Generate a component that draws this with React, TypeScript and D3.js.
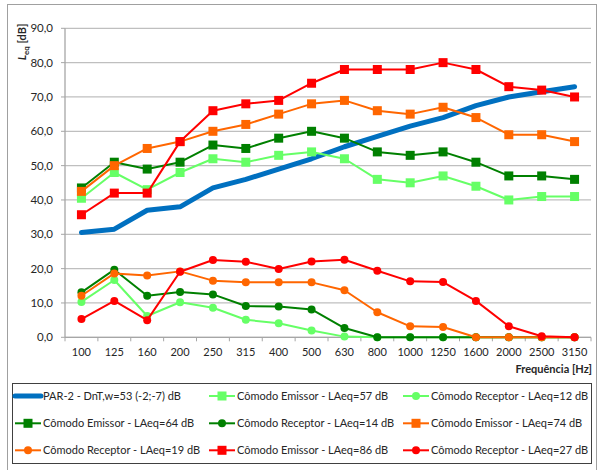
import React from "react";
import * as d3 from "d3";

// Frequency bands (Hz)
const frequencies = ["100", "125", "160", "200", "250", "315", "400", "500", "630", "800", "1000", "1250", "1600", "2000", "2500", "3150"];
const yTicks = [0, 10, 20, 30, 40, 50, 60, 70, 80, 90];

// Standardized level difference curve
const parDnT = [30.5, 31.5, 37, 38, 43.5, 46, 49, 52, 55.5, 58.5, 61.5, 64, 67.5, 70, 71.5, 73];

// Emitting / receiving room levels, four measurement sets
const emissor57 = [40.5, 48, 43, 48, 52, 51, 53, 54, 52, 46, 45, 47, 44, 40, 41, 41];
const receptor12 = [10.3, 16.7, 6.2, 10.2, 8.6, 5.1, 4.1, 2.0, 0.2, 0, 0, 0, 0, 0, 0, 0];
const emissor64 = [43.5, 51, 49, 51, 56, 55, 58, 60, 58, 54, 53, 54, 51, 47, 47, 46];
const receptor14 = [13.1, 19.7, 12.1, 13.2, 12.5, 9.1, 9.0, 8.1, 2.7, 0, 0, 0, 0, 0, 0, 0];
const emissor74 = [42.5, 50, 55, 57, 60, 62, 65, 68, 69, 66, 65, 67, 64, 59, 59, 57];
const receptor19 = [12.1, 18.6, 18, 19.2, 16.5, 16, 16, 16, 13.7, 7.3, 3.2, 3.0, 0, 0, 0, 0];
const emissor86 = [35.7, 42, 42, 57, 66, 68, 69, 74, 78, 78, 78, 80, 78, 73, 72, 70];
const receptor27 = [5.3, 10.6, 5.0, 19.1, 22.5, 22, 19.9, 22.1, 22.6, 19.4, 16.3, 16.1, 10.6, 3.2, 0.3, 0];

type Series = { name: string; values: number[]; color: string; marker: "none" | "square" | "circle"; width: number };

const series: Series[] = [
  { name: "PAR-2 - DnT,w=53 (-2;-7) dB", values: parDnT, color: "#0070C0", marker: "none", width: 5 },
  { name: "Cômodo Emissor - LAeq=57 dB", values: emissor57, color: "#66FF66", marker: "square", width: 2 },
  { name: "Cômodo Receptor - LAeq=12 dB", values: receptor12, color: "#66FF66", marker: "circle", width: 2 },
  { name: "Cômodo Emissor - LAeq=64 dB", values: emissor64, color: "#008000", marker: "square", width: 2 },
  { name: "Cômodo Receptor - LAeq=14 dB", values: receptor14, color: "#008000", marker: "circle", width: 2 },
  { name: "Cômodo Emissor - LAeq=74 dB", values: emissor74, color: "#FF6600", marker: "square", width: 2 },
  { name: "Cômodo Receptor - LAeq=19 dB", values: receptor19, color: "#FF6600", marker: "circle", width: 2 },
  { name: "Cômodo Emissor - LAeq=86 dB", values: emissor86, color: "#FF0000", marker: "square", width: 2 },
  { name: "Cômodo Receptor - LAeq=27 dB", values: receptor27, color: "#FF0000", marker: "circle", width: 2 },
];

const W = 598;
const H = 470;
const plot = { left: 65, right: 591, top: 28.3, bottom: 337.3 };
const FONT = "Lato, 'Open Sans', sans-serif";

function Marker({ kind, cx, cy, color }: { kind: string; cx: number; cy: number; color: string }) {
  if (kind === "square") return <rect x={cx - 4.5} y={cy - 4.5} width={9} height={9} fill={color} />;
  if (kind === "circle") return <circle cx={cx} cy={cy} r={4} fill={color} />;
  return null;
}

export default function App() {
  const x = d3.scaleBand<string>().domain(frequencies).range([plot.left, plot.right]).padding(0);
  const cx = (f: string) => (x(f) as number) + x.bandwidth() / 2;
  const y = d3.scaleLinear().domain([0, 90]).range([plot.bottom, plot.top]);

  const line = d3
    .line<number>()
    .x((_, i) => cx(frequencies[i]))
    .y((v) => y(v));

  const legendCols = [15, 209, 403];
  const legendRows = [396, 423.3, 450.3];

  return (
    <svg width={W} height={H} style={{ position: "absolute", left: 0, top: 0, background: "#fff" }} fontFamily={FONT}>
      <rect x={0} y={0} width={W} height={H} fill="#fff" />
      <rect x={7.5} y={4.5} width={589} height={470} fill="none" stroke="#A0A0A0" strokeWidth={1} />

      {/* gridlines */}
      {yTicks.map((t) => (
        <line key={t} x1={plot.left} x2={plot.right} y1={y(t)} y2={y(t)} stroke="#BFBFBF" strokeWidth={1.3} />
      ))}

      {/* y axis */}
      <line x1={plot.left} x2={plot.left} y1={plot.top} y2={plot.bottom} stroke="#A6A6A6" strokeWidth={1.3} />
      {yTicks.map((t) => (
        <g key={"yt" + t}>
          <line x1={plot.left - 4} x2={plot.left} y1={y(t)} y2={y(t)} stroke="#A6A6A6" strokeWidth={1} />
          <text x={53} y={y(t)} dy="0.36em" textAnchor="end" fontSize={11.5} fill="#262626">
            {t.toFixed(1).replace(".", ",")}
          </text>
        </g>
      ))}

      {/* x axis */}
      <line x1={plot.left} x2={plot.right} y1={plot.bottom} y2={plot.bottom} stroke="#A6A6A6" strokeWidth={1.3} />
      {frequencies.map((f, i) => (
        <g key={"xt" + f}>
          <line x1={x(f) as number} x2={x(f) as number} y1={plot.bottom} y2={plot.bottom + 4} stroke="#A6A6A6" strokeWidth={1} />
          {i === frequencies.length - 1 && (
            <line x1={plot.right} x2={plot.right} y1={plot.bottom} y2={plot.bottom + 4} stroke="#A6A6A6" strokeWidth={1} />
          )}
          <text x={cx(f)} y={352.5} dy="0.36em" textAnchor="middle" fontSize={11} fill="#262626">
            {f}
          </text>
        </g>
      ))}

      <text x={592} y={369} dy="0.36em" textAnchor="end" fontSize={11} fontWeight="bold" fill="#262626">
        Frequência [Hz]
      </text>

      {/* y axis title */}
      <text transform="translate(26,42) rotate(-90)" textAnchor="middle" fontSize={11} fontWeight="bold" fill="#262626">
        <tspan fontStyle="italic">L</tspan>
        <tspan fontSize={8} dy={3}>eq</tspan>
        <tspan dy={-3}> [dB]</tspan>
      </text>

      {/* series */}
      {series.map((s) => (
        <g key={s.name}>
          <path d={line(s.values) || ""} fill="none" stroke={s.color} strokeWidth={s.width} strokeLinejoin="round" strokeLinecap="round" />
          {s.values.map((v, i) => (
            <Marker key={i} kind={s.marker} cx={cx(frequencies[i])} cy={y(v)} color={s.color} />
          ))}
        </g>
      ))}

      {/* legend */}
      <rect x={12.5} y={383.5} width={579} height={80} fill="#fff" stroke="#404040" strokeWidth={1} />
      {series.map((s, i) => {
        const lx = legendCols[i % 3];
        const ly = legendRows[Math.floor(i / 3)];
        return (
          <g key={"lg" + i}>
            <line x1={lx} x2={lx + 26} y1={ly} y2={ly} stroke={s.color} strokeWidth={s.width} strokeLinecap={s.marker === "none" ? "round" : "butt"} />
            <Marker kind={s.marker} cx={lx + 13} cy={ly} color={s.color} />
            <text x={lx + 28} y={ly} dy="0.36em" fontSize={11} fill="#262626">
              {s.name}
            </text>
          </g>
        );
      })}
    </svg>
  );
}
